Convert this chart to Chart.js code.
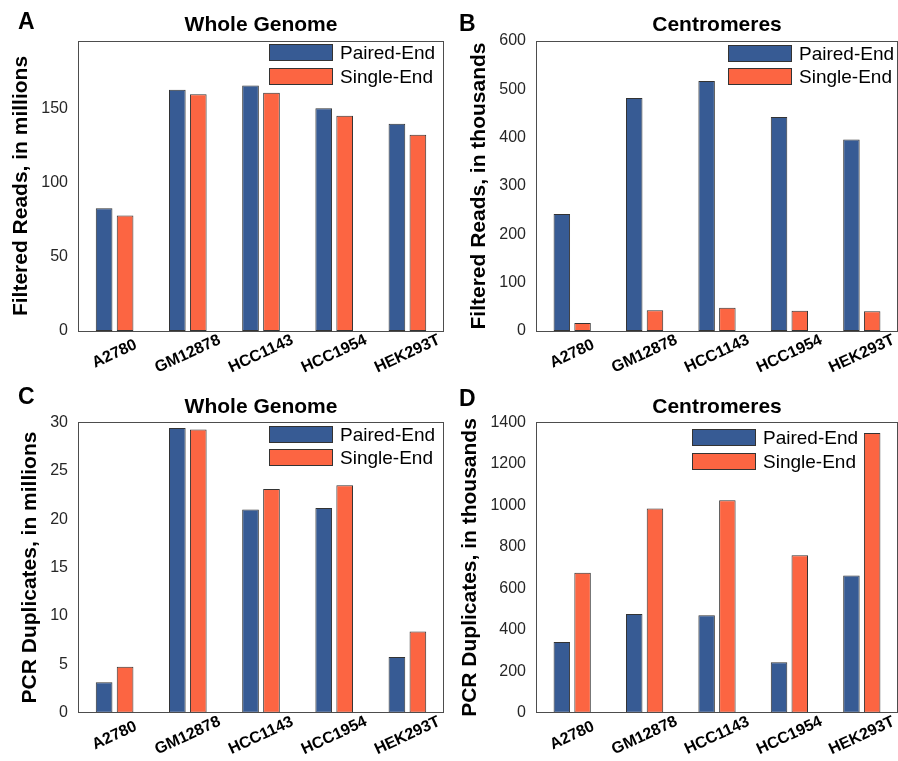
<!DOCTYPE html>
<html>
<head>
<meta charset="utf-8">
<script src="https://cdn.jsdelivr.net/npm/chart.js@4.4.1/dist/chart.umd.min.js"></script>
<style>
  body { margin: 0; background: #fff; font-family: "Liberation Sans", Arial, Helvetica, sans-serif; }
  #wrap { position: relative; width: 898px; height: 761px; overflow: hidden; }
  .panel { position: absolute; }
  .panel canvas { display: block; }
  .letter { position: absolute; font-weight: bold; font-size: 23px; line-height: 23px; color: #000; }
</style>
</head>
<body>
<div id="wrap">
  <div class="panel" style="left:0;top:0"><canvas id="chartA" width="449" height="380"></canvas></div>
  <div class="panel" style="left:449px;top:0"><canvas id="chartB" width="449" height="380"></canvas></div>
  <div class="panel" style="left:0;top:380px"><canvas id="chartC" width="449" height="381"></canvas></div>
  <div class="panel" style="left:449px;top:380px"><canvas id="chartD" width="449" height="381"></canvas></div>
  <div class="letter" style="left:18px;top:10px">A</div>
  <div class="letter" style="left:459px;top:12px">B</div>
  <div class="letter" style="left:18px;top:385px">C</div>
  <div class="letter" style="left:459px;top:387px">D</div>
</div>
<script>
// ---- data ----
const categories = ["A2780", "GM12878", "HCC1143", "HCC1954", "HEK293T"];
const seriesNames = ["Paired-End", "Single-End"];

// filtered reads, whole genome (millions)
const readsGenomePaired = [82.9, 163, 166, 150.5, 140];
const readsGenomeSingle = [78, 160, 161, 145.5, 132.6];
// filtered reads, centromeres (thousands)
const readsCentroPaired = [242, 482, 517, 443, 396];
const readsCentroSingle = [16.5, 43, 48, 42, 41];
// PCR duplicates, whole genome (millions)
const dupsGenomePaired = [3.15, 29.4, 21.0, 21.15, 5.75];
const dupsGenomeSingle = [4.75, 29.25, 23.1, 23.5, 8.4];
// PCR duplicates, centromeres (thousands)
const dupsCentroPaired = [341, 476, 470, 243, 661];
const dupsCentroSingle = [675, 985, 1024, 759, 1348];

const BLUE = "#375b94";
const ORANGE = "#fc6542";
const EDGE = "#333333";
const FONT = '"Liberation Sans", Arial, Helvetica, sans-serif';

Chart.defaults.font.family = FONT;

// box around the plot area (MATLAB style)
const frame = {
  id: "frame",
  afterDatasetsDraw(chart) {
    const { ctx, chartArea: a } = chart;
    ctx.save();
    ctx.strokeStyle = "#4d4d4d";
    ctx.lineWidth = 1;
    ctx.strokeRect(Math.round(a.left) + 0.5, Math.round(a.top) + 0.5,
                   Math.round(a.right - a.left) - 1, Math.round(a.bottom - a.top));
    ctx.restore();
  }
};

// legend drawn inside the plot area, top right
const insideLegend = {
  id: "insideLegend",
  afterDatasetsDraw(chart, args, opts) {
    const { ctx, chartArea: a } = chart;
    ctx.save();
    ctx.font = "19px " + FONT;
    ctx.textBaseline = "middle";
    ctx.lineWidth = 1;
    chart.data.datasets.forEach((ds, i) => {
      const x = Math.round(a.left + opts.x);
      const y = Math.round(a.top + opts.y + i * 23.3);
      ctx.fillStyle = ds.backgroundColor;
      ctx.fillRect(x, y, 64, 17);
      ctx.strokeStyle = EDGE;
      ctx.strokeRect(x + 0.5, y + 0.5, 63, 16);
      ctx.fillStyle = "#000";
      ctx.fillText(ds.label, x + 71, y + 9.5);
    });
    ctx.restore();
  }
};

// rotated category labels centred under their tick
const centerTicks = {
  id: "centerTicks",
  beforeDraw(chart) {
    const s = chart.scales.x;
    s.getLabelItems().forEach((item, i) => {
      item.textOffset = 0;
      item.options.textAlign = "center";
      item.options.textBaseline = "middle";
      item.options.translation = [s.getPixelForTick(i), s.top + 23];
    });
  }
};

function makeChart(canvasId, title, yTitle, paired, single, yMax, yStep, geo) {
  new Chart(document.getElementById(canvasId), {
    type: "bar",
    data: {
      labels: categories,
      datasets: [
        { label: seriesNames[0], data: paired, backgroundColor: BLUE, borderColor: EDGE, borderWidth: 1, borderSkipped: false },
        { label: seriesNames[1], data: single, backgroundColor: ORANGE, borderColor: EDGE, borderWidth: 1, borderSkipped: false }
      ]
    },
    options: {
      responsive: false,
      animation: false,
      events: [],
      categoryPercentage: 0.573,
      barPercentage: 0.795,
      layout: { padding: { top: 0, right: geo.right, bottom: 0, left: 0 } },
      plugins: {
        legend: { display: false },
        tooltip: { enabled: false },
        title: {
          display: true,
          text: title,
          fullSize: false,
          color: "#000",
          font: { size: 21, weight: "bold" },
          padding: { top: geo.titleTop, bottom: geo.titleBottom }
        },
        insideLegend: { x: geo.legendX, y: geo.legendY }
      },
      scales: {
        x: {
          grid: { display: false, drawTicks: false },
          border: { display: false },
          ticks: {
            color: "#000",
            font: { size: 16, weight: "bold" },
            minRotation: 25,
            maxRotation: 25,
            autoSkip: false
          },
          afterFit: s => { s.height = geo.xHeight; }
        },
        y: {
          min: 0,
          max: yMax,
          grid: { display: false, drawTicks: false },
          border: { display: false },
          ticks: {
            stepSize: yStep,
            includeBounds: false,
            color: "#262626",
            font: { size: 16 },
            padding: 10,
            callback: v => String(v) // no thousands separator
          },
          title: {
            display: true,
            text: yTitle,
            color: "#000",
            font: { size: 21, weight: "bold" },
            padding: { top: geo.yTitlePad, bottom: 0 }
          },
          afterFit: s => { s.width = geo.left; }
        }
      }
    },
    plugins: [frame, insideLegend, centerTicks]
  });
}

makeChart("chartA", "Whole Genome", "Filtered Reads, in millions",
  readsGenomePaired, readsGenomeSingle, 196, 50,
  { left: 78, right: 5, xHeight: 49, titleTop: 13, titleBottom: 2.8, yTitlePad: 9, legendX: 191.3, legendY: 3.3 });

makeChart("chartB", "Centromeres", "Filtered Reads, in thousands",
  readsCentroPaired, readsCentroSingle, 600, 100,
  { left: 87, right: 0, xHeight: 49, titleTop: 13, titleBottom: 2.8, yTitlePad: 17.4, legendX: 191.6, legendY: 3.6 });

makeChart("chartC", "Whole Genome", "PCR Duplicates, in millions",
  dupsGenomePaired, dupsGenomeSingle, 30, 5,
  { left: 78, right: 5, xHeight: 48.3, titleTop: 14.2, titleBottom: 2.9, yTitlePad: 17.4, legendX: 191.3, legendY: 3.7 });

makeChart("chartD", "Centromeres", "PCR Duplicates, in thousands",
  dupsCentroPaired, dupsCentroSingle, 1400, 200,
  { left: 87, right: 0, xHeight: 48.3, titleTop: 14.2, titleBottom: 2.9, yTitlePad: 9, legendX: 155.6, legendY: 7 });
</script>
</body>
</html>
